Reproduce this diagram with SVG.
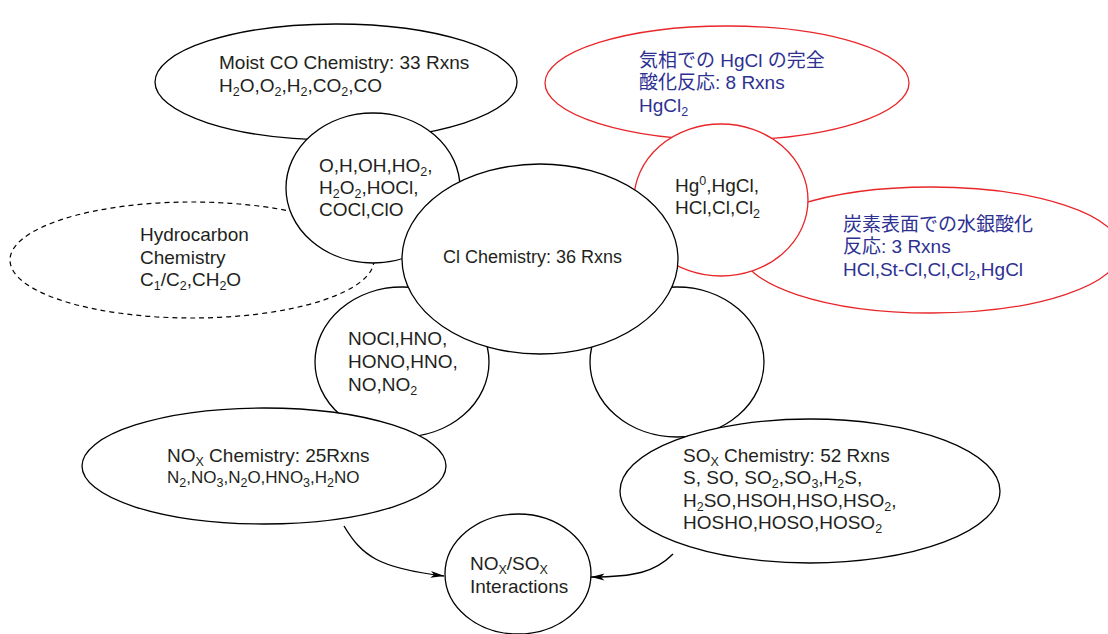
<svg xmlns="http://www.w3.org/2000/svg" width="1108" height="634" viewBox="0 0 1108 634">
<style>
.n{fill:#fff;stroke:#000;stroke-width:1.3}
.r{fill:#fff;stroke:#e8262a;stroke-width:1.3}
.d{fill:#fff;stroke:#000;stroke-width:1.2;stroke-dasharray:5 4}
text{font-family:"Liberation Sans","Noto Sans CJK JP",Arial,sans-serif;font-size:19px;fill:#231f20}
.b{fill:#2e3192}
.s{font-size:12.5px}
.c{stroke:#000;stroke-width:1.4;fill:none;marker-end:url(#ah)}
</style>
<defs>
<marker id="ah" viewBox="0 0 14 8" refX="13.5" refY="4" markerWidth="14" markerHeight="8" markerUnits="userSpaceOnUse" orient="auto">
<path d="M0,0.6 L14,4 L0,7.4 L3.5,4 z" fill="#000"/>
</marker>
</defs>
<rect width="1108" height="634" fill="#fff"/>

<g id="moist-co">
<ellipse class="n" cx="336" cy="82" rx="181" ry="58"/>
<text x="219" y="69">Moist CO Chemistry: 33 Rxns</text>
<text x="219" y="92">H<tspan class="s" dy="4">2</tspan><tspan dy="-4">O,O</tspan><tspan class="s" dy="4">2</tspan><tspan dy="-4">,H</tspan><tspan class="s" dy="4">2</tspan><tspan dy="-4">,CO</tspan><tspan class="s" dy="4">2</tspan><tspan dy="-4">,CO</tspan></text>
</g>

<g id="gas-phase-hgcl">
<ellipse class="r" cx="727" cy="83" rx="182" ry="57"/>
<text class="b" x="639" y="67">気相での HgCl の完全</text>
<text class="b" x="639" y="89">酸化反応: 8 Rxns</text>
<text class="b" x="639" y="112">HgCl<tspan class="s" dy="4">2</tspan></text>
</g>

<g id="carbon-surface">
<ellipse class="r" cx="931" cy="250" rx="190" ry="63"/>
<text class="b" x="843" y="231">炭素表面での水銀酸化</text>
<text class="b" x="843" y="253">反応: 3 Rxns</text>
<text class="b" x="843" y="276">HCl,St-Cl,Cl,Cl<tspan class="s" dy="4">2</tspan><tspan dy="-4">,HgCl</tspan></text>
</g>

<g id="hydrocarbon">
<ellipse class="d" cx="192" cy="260" rx="182" ry="58"/>
<text x="140" y="241">Hydrocarbon</text>
<text x="140" y="264">Chemistry</text>
<text x="140" y="286">C<tspan class="s" dy="4">1</tspan><tspan dy="-4">/C</tspan><tspan class="s" dy="4">2</tspan><tspan dy="-4">,CH</tspan><tspan class="s" dy="4">2</tspan><tspan dy="-4">O</tspan></text>
</g>

<g id="radicals">
<ellipse class="n" cx="373" cy="188" rx="87" ry="75"/>
<text x="319" y="172">O,H,OH,HO<tspan class="s" dy="4">2</tspan><tspan dy="-4">,</tspan></text>
<text x="319" y="194">H<tspan class="s" dy="4">2</tspan><tspan dy="-4">O</tspan><tspan class="s" dy="4">2</tspan><tspan dy="-4">,HOCl,</tspan></text>
<text x="319" y="216">COCl,ClO</text>
</g>

<g id="mercury-species">
<ellipse class="r" cx="721" cy="200" rx="87" ry="76"/>
<text x="675" y="192">Hg<tspan class="s" dy="-7">0</tspan><tspan dy="7">,HgCl,</tspan></text>
<text x="675" y="214">HCl,Cl,Cl<tspan class="s" dy="4">2</tspan></text>
</g>

<g id="nitrogen-species">
<ellipse class="n" cx="402" cy="362" rx="87" ry="75"/>
<text x="348" y="345">NOCl,HNO,</text>
<text x="348" y="368">HONO,HNO,</text>
<text x="348" y="391">NO,NO<tspan class="s" dy="4">2</tspan></text>
</g>

<g id="empty-node">
<ellipse class="n" cx="677" cy="362" rx="87" ry="75"/>
</g>

<g id="cl-chemistry">
<ellipse class="n" cx="540" cy="259" rx="138" ry="95"/>
<text x="443" y="263" style="font-size:18px">Cl Chemistry: 36 Rxns</text>
</g>

<g id="nox-chemistry">
<ellipse class="n" cx="264" cy="466" rx="182" ry="58"/>
<text x="167" y="462">NO<tspan class="s" dy="4">X</tspan><tspan dy="-4"> Chemistry: 25Rxns</tspan></text>
<text x="167" y="483" style="font-size:17px">N<tspan class="s" dy="4">2</tspan><tspan dy="-4">,NO</tspan><tspan class="s" dy="4">3</tspan><tspan dy="-4">,N</tspan><tspan class="s" dy="4">2</tspan><tspan dy="-4">O,HNO</tspan><tspan class="s" dy="4">3</tspan><tspan dy="-4">,H</tspan><tspan class="s" dy="4">2</tspan><tspan dy="-4">NO</tspan></text>
</g>

<g id="sox-chemistry">
<ellipse class="n" cx="810" cy="491" rx="190" ry="72"/>
<text x="683" y="462">SO<tspan class="s" dy="4">X</tspan><tspan dy="-4"> Chemistry: 52 Rxns</tspan></text>
<text x="683" y="484">S, SO, SO<tspan class="s" dy="4">2</tspan><tspan dy="-4">,SO</tspan><tspan class="s" dy="4">3</tspan><tspan dy="-4">,H</tspan><tspan class="s" dy="4">2</tspan><tspan dy="-4">S,</tspan></text>
<text x="683" y="507">H<tspan class="s" dy="4">2</tspan><tspan dy="-4">SO,HSOH,HSO,HSO</tspan><tspan class="s" dy="4">2</tspan><tspan dy="-4">,</tspan></text>
<text x="683" y="529">HOSHO,HOSO,HOSO<tspan class="s" dy="4">2</tspan></text>
</g>

<g id="nox-sox-interactions">
<ellipse class="n" cx="518" cy="574" rx="73" ry="60"/>
<text x="470" y="570">NO<tspan class="s" dy="4">X</tspan><tspan dy="-4">/SO</tspan><tspan class="s" dy="4">X</tspan></text>
<text x="470" y="593">Interactions</text>
</g>

<g id="connectors">
<path class="c" d="M344,526 C362,556 378,568 444,576"/>
<path class="c" d="M673,554 C655,572 635,577 591,577"/>
</g>
</svg>
